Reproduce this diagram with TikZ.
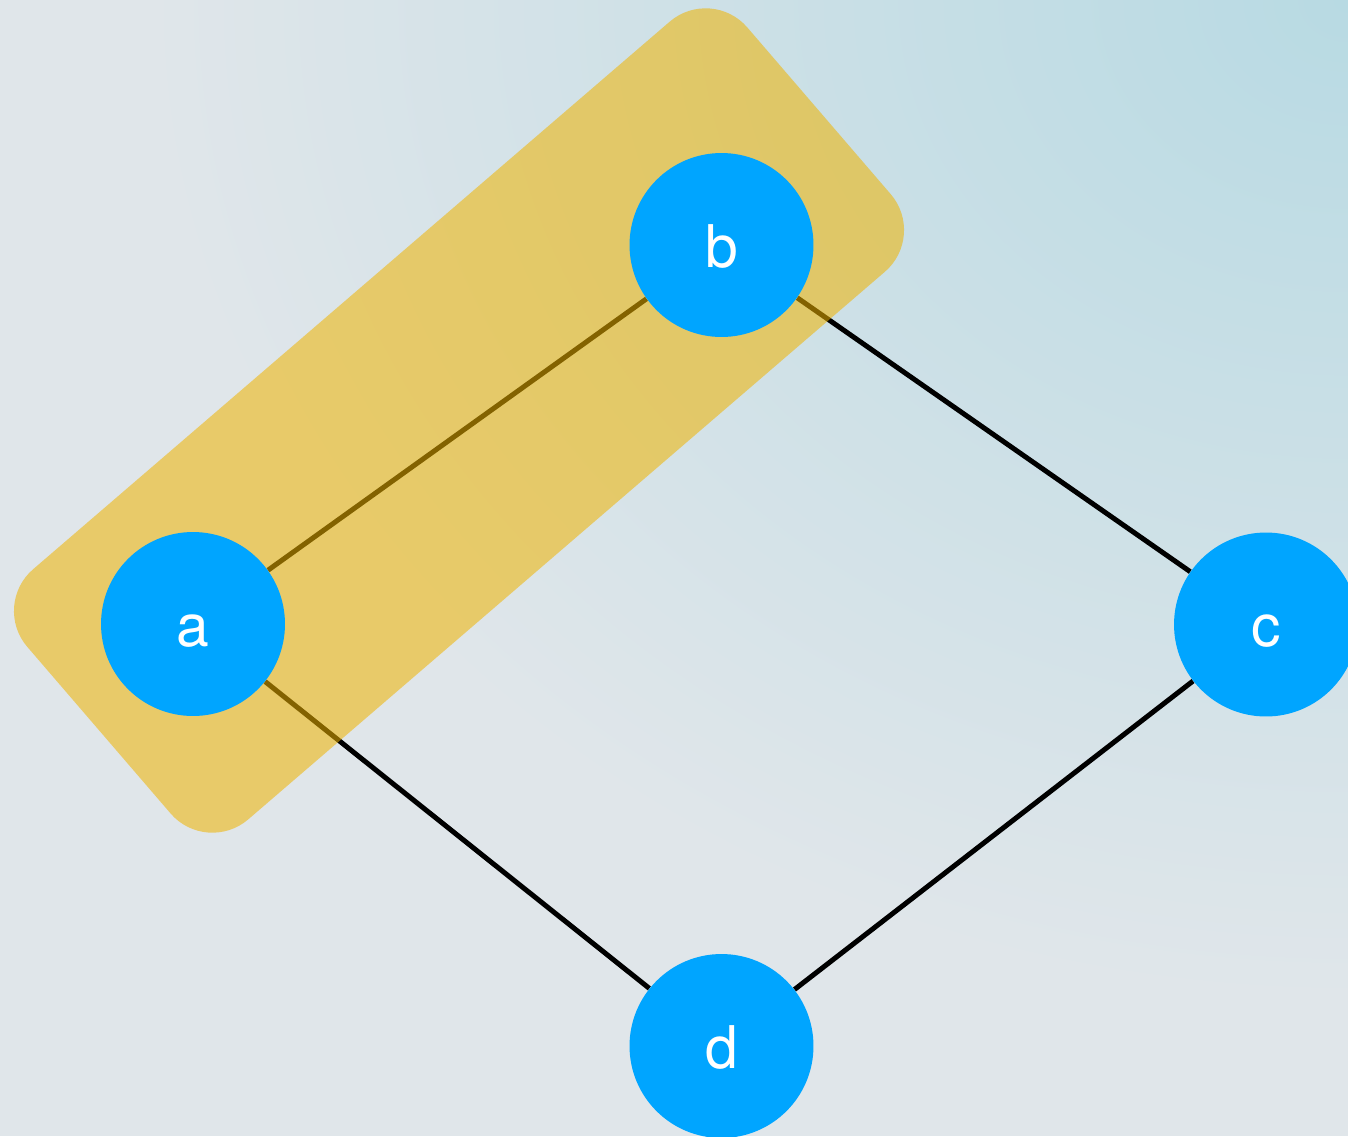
\documentclass[tikz,border=0pt]{standalone}
\usepackage{fontspec}
\setmainfont{TeX Gyre Heros}
\definecolor{nodeblue}{RGB}{0,165,255}
\definecolor{hlyellow}{RGB}{240,180,0}
\definecolor{bgbase}{RGB}{224,230,234}
\definecolor{bgtint}{RGB}{184,218,227}
\pgfdeclarelayer{bglayer}
\pgfdeclarelayer{edgelayer}
\pgfdeclarelayer{hllayer}
\pgfsetlayers{bglayer,edgelayer,hllayer,main}
\begin{document}
\begin{tikzpicture}[x=0.02cm,y=-0.02cm,
  vertex/.style={circle,fill=nodeblue,minimum size=3.68cm,inner sep=0pt,text=white,
    font=\fontsize{33.5}{40}\selectfont,text height=0.88cm,text depth=0cm},
  edge/.style={line width=0.1cm,black},
  highlight/.style={fill=hlyellow,fill opacity=0.55,rounded corners=1.1cm,
    minimum width=19cm,minimum height=6.6cm,inner sep=0pt,rotate=40.7}]
\useasboundingbox (0,0) rectangle (1348,1136);
\begin{pgfonlayer}{bglayer}
  \fill[bgbase] (0,0) rectangle (1348,1136);
  \begin{scope}
    \clip (0,0) rectangle (1348,1136);
    \shade[inner color=bgtint,outer color=bgbase] (1348,0) ellipse (24cm and 20cm);
  \end{scope}
\end{pgfonlayer}
\node[vertex] (a) at (193,624) {a};
\node[vertex] (b) at (721.5,245) {b};
\node[vertex] (c) at (1266,624.5) {c};
\node[vertex] (d) at (721.5,1046) {d};
\begin{pgfonlayer}{hllayer}
  \node[highlight] (hl) at (459,420.5) {};
\end{pgfonlayer}
\begin{pgfonlayer}{edgelayer}
  \draw[edge] (a) -- (b);
  \draw[edge] (b) -- (c);
  \draw[edge] (c) -- (d);
  \draw[edge] (d) -- (a);
\end{pgfonlayer}
\end{tikzpicture}
\end{document}
